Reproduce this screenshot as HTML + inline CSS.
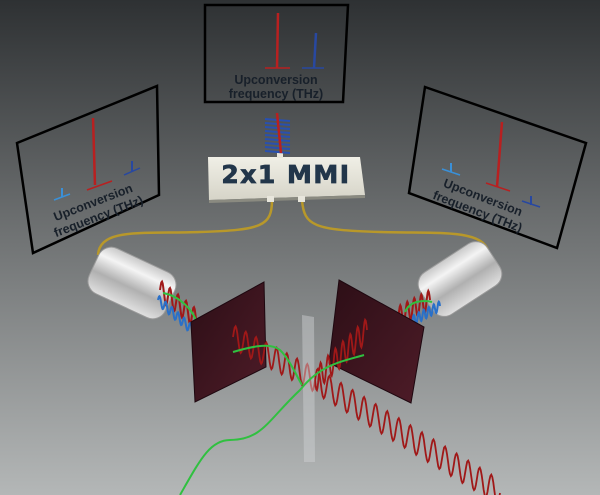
<!DOCTYPE html>
<html><head><meta charset="utf-8"><style>
html,body{margin:0;padding:0;width:600px;height:495px;overflow:hidden}
svg{display:block}
text{font-family:"Liberation Sans",sans-serif;font-weight:bold}
</style></head><body>
<svg id="s" width="600" height="495" viewBox="0 0 600 495" xmlns="http://www.w3.org/2000/svg">
<defs>
<linearGradient id="bg" x1="0" y1="0" x2="0" y2="1">
<stop offset="0" stop-color="#2e3133"/><stop offset="0.45" stop-color="#6c6f70"/><stop offset="1" stop-color="#b4b7b7"/>
</linearGradient>
<linearGradient id="cyl" x1="0" y1="0" x2="0" y2="1">
<stop offset="0" stop-color="#c8c8c8"/><stop offset="0.25" stop-color="#f4f4f4"/><stop offset="0.6" stop-color="#b0b0b0"/><stop offset="1" stop-color="#e0e0e0"/>
</linearGradient>
<linearGradient id="plate" x1="0" y1="0" x2="1" y2="1">
<stop offset="0" stop-color="#2c0e16"/><stop offset="1" stop-color="#4e1c28"/>
</linearGradient>
<linearGradient id="mmi" x1="0" y1="0" x2="0" y2="1">
<stop offset="0" stop-color="#f0efe6"/><stop offset="1" stop-color="#d6d4c8"/>
</linearGradient>
</defs>
<rect width="600" height="495" fill="url(#bg)"/>

<!-- top panel -->
<polygon points="205,5 348,5 343,102 205,102" fill="none" stroke="#000" stroke-width="2.5"/>
<line x1="278" y1="13" x2="277" y2="68" stroke="#b82020" stroke-width="2.5"/>
<line x1="265" y1="68" x2="290" y2="68" stroke="#b82020" stroke-width="1.5"/>
<line x1="316" y1="33" x2="314" y2="68" stroke="#2848a0" stroke-width="2.5"/>
<line x1="302" y1="68" x2="324" y2="68" stroke="#2848a0" stroke-width="1.5"/>
<text x="276" y="84" font-size="12.5" fill="#18202a" text-anchor="middle">Upconversion</text>
<text x="276" y="98" font-size="12.5" fill="#18202a" text-anchor="middle">frequency (THz)</text>

<!-- left panel -->
<polygon points="17,143 157,86 159,195 33,253" fill="none" stroke="#000" stroke-width="2.5"/>
<line x1="93" y1="118" x2="95" y2="185" stroke="#b82020" stroke-width="2.5"/>
<line x1="87" y1="190" x2="112" y2="181" stroke="#b82020" stroke-width="1.5"/>
<line x1="132" y1="161" x2="132" y2="172" stroke="#2848a0" stroke-width="2"/>
<line x1="124" y1="175" x2="140" y2="168" stroke="#2848a0" stroke-width="1.5"/>
<line x1="62" y1="188" x2="62" y2="197" stroke="#3a90d8" stroke-width="2"/>
<line x1="54" y1="200" x2="70" y2="194" stroke="#3a90d8" stroke-width="1.5"/>
<g transform="rotate(-21 96 210)">
<text x="96" y="206" font-size="12.5" fill="#18202a" text-anchor="middle">Upconversion</text>
<text x="96" y="221" font-size="12.5" fill="#18202a" text-anchor="middle">frequency (THz)</text>
</g>

<!-- right panel -->
<polygon points="425,87 586,143 557,248 409,193" fill="none" stroke="#000" stroke-width="2.5"/>
<line x1="502" y1="122" x2="497" y2="187" stroke="#b82020" stroke-width="2.5"/>
<line x1="486" y1="183" x2="510" y2="191" stroke="#b82020" stroke-width="1.5"/>
<line x1="451" y1="163" x2="451" y2="172" stroke="#3a90d8" stroke-width="2"/>
<line x1="442" y1="169" x2="460" y2="175" stroke="#3a90d8" stroke-width="1.5"/>
<line x1="531" y1="196" x2="531" y2="205" stroke="#2848a0" stroke-width="2"/>
<line x1="522" y1="201" x2="540" y2="207" stroke="#2848a0" stroke-width="1.5"/>
<g transform="rotate(21 480 205)">
<text x="480" y="201" font-size="12.5" fill="#18202a" text-anchor="middle">Upconversion</text>
<text x="480" y="216" font-size="12.5" fill="#18202a" text-anchor="middle">frequency (THz)</text>
</g>

<!-- fibers -->
<path d="M272,200 C272,226 262,230 200,232 C140,234 100,228 98,255" fill="none" stroke="#b8982a" stroke-width="2.5"/>
<path d="M302,200 C304,226 314,230 380,232 C440,234 488,228 489,256" fill="none" stroke="#b8982a" stroke-width="2.5"/>

<!-- MMI -->
<polygon points="208,157 360,157 365,195 209,200" fill="url(#mmi)"/>
<polygon points="209,200 365,195 365,198 209,203" fill="#8a8a80"/>
<rect x="277" y="152" width="6" height="6" fill="#e8e6dc"/>
<rect x="267" y="196" width="7" height="6" fill="#e8e6dc"/>
<rect x="298" y="196" width="7" height="6" fill="#e8e6dc"/>
<text x="286" y="183" font-size="25" fill="#22364a" text-anchor="middle" stroke="#22364a" stroke-width="0.8" letter-spacing="1.5" style="font-family:'DejaVu Sans','Liberation Sans',sans-serif">2x1 MMI</text>
<g id="ant"></g>

<!-- cylinders -->
<g transform="translate(132,283) rotate(25)">
<rect x="-42" y="-25" width="84" height="50" rx="14" fill="url(#cyl)" stroke="#9a9a9a" stroke-width="1"/>
</g>
<g transform="translate(460,279) rotate(-33)">
<rect x="-40" y="-25" width="80" height="50" rx="14" fill="url(#cyl)" stroke="#9a9a9a" stroke-width="1"/>
</g>

<g id="behind"></g>
<!-- plates -->
<polygon points="191,322 264,282 266,367 195,402" fill="url(#plate)" stroke="#1e0810" stroke-width="1"/>
<polygon points="339,280 424,327 411,403 329,363" fill="url(#plate)" stroke="#1e0810" stroke-width="1"/>
<g id="waves"></g>
<!-- glass -->
<polygon points="302,315 314,317 315,462 304,462" fill="#d0d2d4" fill-opacity="0.45"/>
<g id="green"></g>
</svg>
<script>
var NS="http://www.w3.org/2000/svg";
function wave(g,x1,y1,x2,y2,amp,n,col,w){
 var dx=x2-x1,dy=y2-y1,d="";
 var steps=n*12;
 for(var i=0;i<=steps;i++){var t=i/steps;var s=Math.sin(t*n*2*Math.PI)*amp;
  var x=x1+dx*t,y=y1+dy*t-s;d+=(i?"L":"M")+x.toFixed(1)+","+y.toFixed(1);}
 var p=document.createElementNS(NS,"path");p.setAttribute("d",d);p.setAttribute("fill","none");
 p.setAttribute("stroke",col);p.setAttribute("stroke-width",w||1.5);g.appendChild(p);}
function ln(g,d,col,w){var p=document.createElementNS(NS,"path");p.setAttribute("d",d);p.setAttribute("fill","none");p.setAttribute("stroke",col);p.setAttribute("stroke-width",w);g.appendChild(p);}
var W=document.getElementById("waves"),B=document.getElementById("behind"),G=document.getElementById("green"),A=document.getElementById("ant");
for(var i=0;i<9;i++){var y=119+i*4;ln(A,"M265,"+y+" L290,"+(y+2),"#2850b0",2);}
ln(A,"M277,113 L281,153","#b82020",2.5);
wave(B,160,290,200,322,10,5,"#a01818",2);
wave(B,158,300,195,332,5,6,"#2a70c8",2);
wave(B,430,300,395,318,10,5,"#a01818",2);
wave(B,440,306,410,322,5,6,"#2a70c8",2);
ln(B,"M163,293 C180,296 192,310 196,320","#30c040",2);
ln(B,"M405,312 C410,300 425,300 432,302","#30c040",2);
wave(W,233,337,315,380,12,8,"#a01818",1.8);
wave(W,315,380,500,493,13,16,"#a01818",1.8);
wave(W,367,330,315,380,12,7,"#a01818",1.8);
ln(G,"M180,495 C200,460 210,440 230,440 C262,440 268,420 300,390 C320,365 340,362 364,355","#30c040",2);
ln(G,"M233,352 C250,347 270,342 280,350 C290,360 296,375 302,385","#30c040",2);
</script>
</body></html>
